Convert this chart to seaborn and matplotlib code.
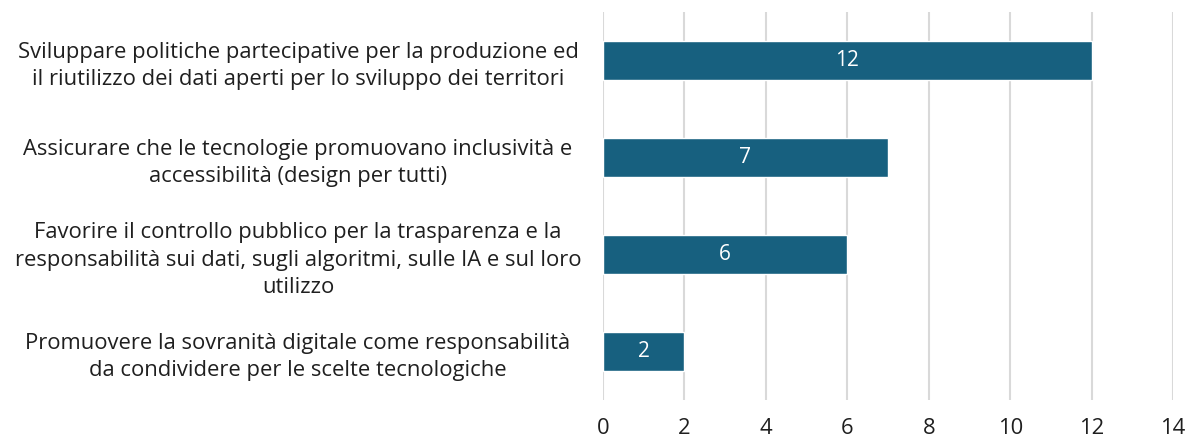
import matplotlib
matplotlib.use("Agg")
import matplotlib.pyplot as plt
import seaborn as sns
import pandas as pd

categories = [
    "Sviluppare politiche partecipative per la produzione ed\nil riutilizzo dei dati aperti per lo sviluppo dei territori",
    "Assicurare che le tecnologie promuovano inclusività e\naccessibilità (design per tutti)",
    "Favorire il controllo pubblico per la trasparenza e la\nresponsabilità sui dati, sugli algoritmi, sulle IA e sul loro\nutilizzo",
    "Promuovere la sovranità digitale come responsabilità\nda condividere per le scelte tecnologiche",
]
values = [12, 7, 6, 2]
xticks = [0, 2, 4, 6, 8, 10, 12, 14]

df = pd.DataFrame({"cat": categories, "val": values})

sns.set_theme(style="white")
plt.rcParams["font.family"] = ["Open Sans", "DejaVu Sans"]

fig = plt.figure(figsize=(11.92, 4.41), dpi=100)
ax = fig.add_axes([603 / 1192, 1 - 400 / 441, (1173 - 603) / 1192, (400 - 12) / 441])

sns.barplot(data=df, x="val", y="cat", orient="h", color="#17607F",
            saturation=1, width=0.41, ax=ax, zorder=3)

fs = 15.8
ax.set_xlim(0, 14)
ax.set_ylim(3.5, -0.5)
ax.set_xticks(xticks)
ax.set_xticklabels([str(t) for t in xticks], fontsize=fs, color="#1F1F1F")
ax.xaxis.grid(True, color="#D9D9D9", linewidth=1.5, zorder=0)
ax.yaxis.grid(False)
ax.set_axisbelow(True)
for s in ax.spines.values():
    s.set_visible(False)
ax.tick_params(axis="x", length=0, pad=13)
ax.tick_params(axis="y", length=0, pad=(603 - 298) * 72 / 100)
for lab in ax.get_yticklabels():
    lab.set_ha("center")
    lab.set_multialignment("center")
    lab.set_fontsize(fs)
    lab.set_color("#1F1F1F")
    lab.set_linespacing(1.38)
ax.set_xlabel("")
ax.set_ylabel("")

for c in ax.containers:
    ax.bar_label(c, labels=[str(v) for v in values], label_type="center",
                 color="white", fontsize=15)

fig.savefig("out.png", dpi=100)
